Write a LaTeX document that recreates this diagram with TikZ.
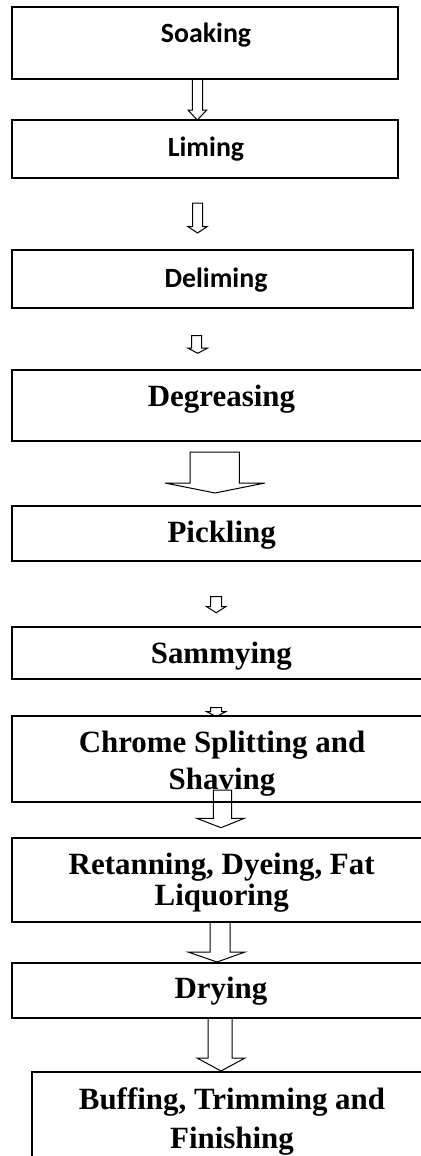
\documentclass[tikz,border=0pt]{standalone}
\usepackage{fontspec}
\setmainfont{Liberation Serif}
\newfontfamily\calibrifont{Carlito}
\usetikzlibrary{fit}

\tikzset{every picture/.style={line width=0.75pt}}
\tikzset{
	stepbox/.style={draw, line width=1.1pt, inner sep=0pt},
	sanslbl/.style={inner sep=0.75pt, anchor=base, font=\calibrifont\bfseries\fontsize{20.9}{24}\selectfont},
	seriflbl/.style={inner sep=0.75pt, anchor=base, align=center, font=\bfseries\fontsize{23.2}{23.25}\selectfont},
}

\begin{document}
\begin{tikzpicture}[x=0.75pt,y=0.75pt,yscale=-1,xscale=1]
	\useasboundingbox (0,0) rectangle (421,1156);
	\clip (0,0) rectangle (421,1156);

	%Shape: Rectangle [id:soak]
	\node [stepbox, fit={(12,7) (398,79)}] (soak) {};
	%Shape: Rectangle [id:lime]
	\node [stepbox, fit={(12,120) (398,178)}] (lime) {};
	%Shape: Rectangle [id:delime]
	\node [stepbox, fit={(12,250) (413,308)}] (delime) {};
	%Shape: Rectangle [id:degrease]
	\node [stepbox, fit={(12,370) (425,441)}] (degrease) {};
	%Shape: Rectangle [id:pickle]
	\node [stepbox, fit={(12,506) (425,561)}] (pickle) {};
	%Shape: Rectangle [id:sammy]
	\node [stepbox, fit={(12,627) (425,679)}] (sammy) {};
	%Shape: Rectangle [id:chrome]
	\node [stepbox, fit={(12,716) (425,802)}] (chrome) {};
	%Shape: Rectangle [id:retan]
	\node [stepbox, fit={(12,838) (425,922)}] (retan) {};
	%Shape: Rectangle [id:dry]
	\node [stepbox, fit={(12,963) (425,1018)}] (dry) {};
	%Shape: Rectangle [id:buff]
	\node [stepbox, fit={(32,1072) (425,1162)}] (buff) {};

	%Shape: Down Arrow [id:arr1]
	\draw (192.3,79) -- (192.3,110) -- (188,110) -- (197.3,120) -- (206.7,110) -- (202.7,110) -- (202.7,79) -- cycle ;
	%Shape: Down Arrow [id:arr2]
	\draw (192.7,203) -- (192.7,226.7) -- (188,226.7) -- (197.5,233) -- (207,226.7) -- (202.7,226.7) -- (202.7,203) -- cycle ;
	%Shape: Down Arrow [id:arr3]
	\draw (191.7,335.7) -- (191.7,348) -- (187.7,348) -- (197.7,353.3) -- (207.7,348) -- (201.7,348) -- (201.7,335.7) -- cycle ;
	%Shape: Down Arrow [id:arr4]
	\draw (190,452) -- (190,483) -- (165,483) -- (215,493) -- (265,483) -- (239.3,483) -- (239.3,452) -- cycle ;
	%Shape: Down Arrow [id:arr5]
	\draw (210.7,596.7) -- (210.7,606.7) -- (206.7,606.7) -- (216.2,612.7) -- (225.7,606.7) -- (221.7,606.7) -- (221.7,596.7) -- cycle ;
	%Shape: Down Arrow [id:arr6]
	\draw (210.7,707.5) -- (210.7,711.7) -- (206.7,711.7) -- (216.2,716.7) -- (225.7,711.7) -- (221.7,711.7) -- (221.7,707.5) -- cycle ;
	%Shape: Down Arrow [id:arr7]
	\draw (213.3,790) -- (213.3,818.3) -- (196.7,818.3) -- (221,827.7) -- (244.3,818.3) -- (231.7,818.3) -- (231.7,790) -- cycle ;
	%Shape: Down Arrow [id:arr8]
	\draw (210,922) -- (210,952) -- (188,952) -- (217,962) -- (245,952) -- (230,952) -- (230,922) -- cycle ;
	%Shape: Down Arrow [id:arr9]
	\draw (208,1018) -- (208,1058) -- (197,1058) -- (221,1071) -- (245,1058) -- (232,1058) -- (232,1018) -- cycle ;

	% Text Node
	\draw (206,42.7) node [sanslbl] (soaklbl) {Soaking};
	% Text Node
	\draw (206,156) node [sanslbl] (limelbl) {Liming};
	% Text Node
	\draw (216,287.7) node [sanslbl] (delimelbl) {Deliming};
	% Text Node
	\draw (221.5,406.7) node [seriflbl] (degreaselbl) {Degreasing};
	% Text Node
	\draw (221.7,542.7) node [seriflbl] (picklelbl) {Pickling};
	% Text Node
	\draw (221.3,663.3) node [seriflbl] (sammylbl) {Sammying};
	% Text Node
	\draw (222,789.3) node [seriflbl] (chromelbl) {Chrome Splitting and\\[4.2pt]Shaving};
	% Text Node
	\draw (221.7,905) node [seriflbl] (retanlbl) {Retanning, Dyeing, Fat\\Liquoring};
	% Text Node
	\draw (221,998.3) node [seriflbl] (drylbl) {Drying};
	% Text Node
	\draw (232,1148.3) node [seriflbl] (bufflbl) {Buffing, Trimming and\\[5.5pt]Finishing};

\end{tikzpicture}
\end{document}
